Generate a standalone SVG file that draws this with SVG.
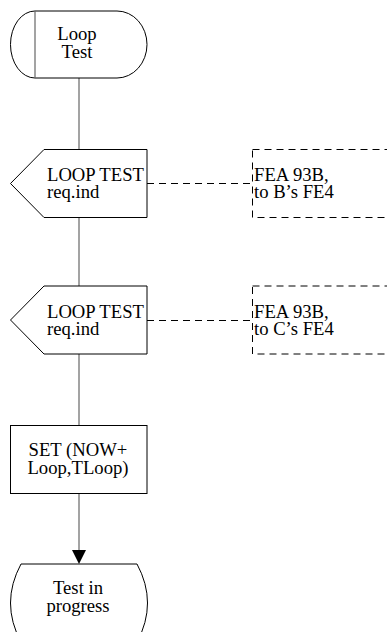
<svg xmlns="http://www.w3.org/2000/svg" width="387" height="632" viewBox="0 0 387 632">
<style>
.shape{fill:#fff;stroke:#000;stroke-width:1}
.conn{fill:none;stroke:#666;stroke-width:1.2}
.dash{fill:none;stroke:#000;stroke-width:1;stroke-dasharray:7,5}
text{font-family:"Liberation Serif","Times New Roman",serif;font-size:18.67px;fill:#000}
.c{text-anchor:middle}
</style>
<g id="connectors">
<line class="conn" x1="79" y1="78" x2="79" y2="149.5"/>
<line class="conn" x1="79" y1="217.5" x2="79" y2="286"/>
<line class="conn" x1="79" y1="354" x2="79" y2="425.5"/>
<line class="conn" x1="79" y1="493.5" x2="79" y2="551"/>
<polygon points="72,550 86,550 79,564" fill="#000"/>
<polyline class="dash" points="147,183.5 252.5,183.5"/>
<polyline class="dash" points="147,320.5 252.5,320.5"/>
</g>
<g id="start">
<path class="shape" d="M35,11 H117 A30,33.5 0 0 1 117,78 H35 A24.5,33.5 0 0 1 35,11 Z"/>
<line x1="35" y1="11" x2="35" y2="78" stroke="#666" stroke-width="1.2"/>
<text class="c" x="77" y="40">Loop</text>
<text class="c" x="77" y="57.5">Test</text>
</g>
<g id="input1">
<polygon class="shape" points="44,149.5 147,149.5 147,217.5 44,217.5 10.5,183.5"/>
<text x="47" y="180.5">LOOP TEST</text>
<text x="47" y="197.5">req.ind</text>
</g>
<g id="comment1">
<rect class="dash" x="252.5" y="149.5" width="200" height="68"/>
<text x="254" y="180.5">FEA 93B,</text>
<text x="254" y="197.5">to B’s FE4</text>
</g>
<g id="input2">
<polygon class="shape" points="44,286 147,286 147,354 44,354 10.5,320"/>
<text x="47" y="317.5">LOOP TEST</text>
<text x="47" y="334.5">req.ind</text>
</g>
<g id="comment2">
<rect class="dash" x="252.5" y="286" width="200" height="68"/>
<text x="254" y="317.5">FEA 93B,</text>
<text x="254" y="334.5">to C’s FE4</text>
</g>
<g id="task">
<rect class="shape" x="10.5" y="425.5" width="136.5" height="68"/>
<text class="c" x="78" y="456">SET (NOW+</text>
<text class="c" x="78" y="473.5">Loop,TLoop)</text>
</g>
<g id="state">
<path class="shape" d="M21,564 H137 Q158,603 137,642 H21 Q0,603 21,564 Z"/>
<text class="c" x="78" y="594">Test in</text>
<text class="c" x="78" y="612">progress</text>
</g>
</svg>
